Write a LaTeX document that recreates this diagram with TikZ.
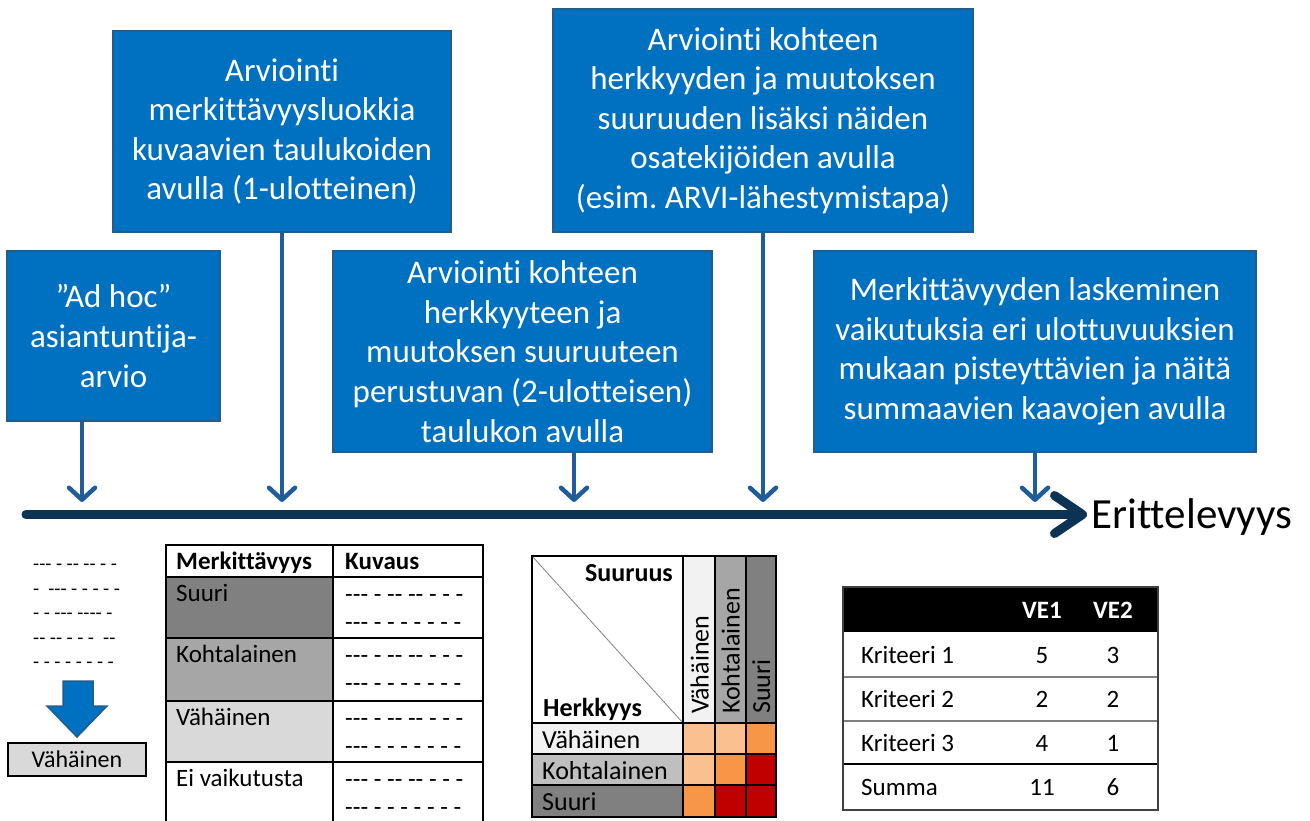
\documentclass[tikz,border=0pt]{standalone}
\usepackage{fontspec}
\setmainfont{Carlito}[Ligatures={TeX,CommonOff}]
\newfontfamily\dashfont{Carlito}[Ligatures=CommonOff]
\usetikzlibrary{arrows.meta,calc}
\frenchspacing

\definecolor{boxblue}{RGB}{0,112,192}
\definecolor{boxedge}{RGB}{36,92,142}
\definecolor{pointer}{RGB}{31,92,153}
\definecolor{axisblue}{RGB}{12,50,84}
\definecolor{lightorange}{RGB}{250,192,144}
\definecolor{midorange}{RGB}{247,150,70}
\definecolor{deepred}{RGB}{192,0,0}
\definecolor{g95}{RGB}{242,242,242}
\definecolor{g85}{RGB}{217,217,217}
\definecolor{g75}{RGB}{191,191,191}
\definecolor{g65}{RGB}{166,166,166}
\definecolor{g50}{RGB}{128,128,128}

\tikzset{
  method/.style={draw=boxedge, line width=2.5pt, fill=boxblue, text=white,
    align=center, inner sep=0pt, font=\fontsize{33}{39.6}\selectfont},
  pointer/.style={draw=pointer, line width=4.5pt,
    -{Straight Barb[length=12pt,width=26pt,round]}},
  axisline/.style={draw=axisblue, line width=9pt, line cap=round,
    -{Straight Barb[length=28pt,width=38pt,round]}},
  cell/.style={font=\fontsize{25}{30}\selectfont, inner sep=0pt},
  bcell/.style={cell, font=\fontsize{25}{30}\selectfont\bfseries},
  mcell/.style={font=\fontsize{26}{31}\selectfont, inner sep=0pt},
  mbcell/.style={mcell, font=\fontsize{26}{31}\selectfont\bfseries},
  dashtxt/.style={inner sep=0pt, font=\fontsize{25}{30}\dashfont},
  grid/.style={draw=black, line width=1.3pt},
}

\begin{document}
\begin{tikzpicture}[x=1pt,y=-1pt]
\useasboundingbox (0,0) rectangle (1310,820);
\begin{scope}
\clip (0,0) rectangle (1310,820);

% ---------- method boxes ----------
\node[method, minimum width=213pt, minimum height=170pt] (m1) at (113.5,336)
  {”Ad hoc”\\asiantuntija-\\arvio};
\node[method, minimum width=338pt, minimum height=201pt] (m2) at (282,131.5)
  {Arviointi\\merkittävyysluokkia\\kuvaavien taulukoiden\\avulla (1-ulotteinen)};
\node[method, minimum width=379pt, minimum height=201pt] (m3) at (522.5,351.5)
  {Arviointi kohteen\\herkkyyteen ja\\muutoksen suuruuteen\\perustuvan (2-ulotteisen)\\taulukon avulla};
\node[method, minimum width=420pt, minimum height=223pt] (m4) at (763,120.5)
  {Arviointi kohteen\\herkkyyden ja muutoksen\\suuruuden lisäksi näiden\\osatekijöiden avulla\\(esim. ARVI-lähestymistapa)};
\node[method, minimum width=442pt, minimum height=201pt] (m5) at (1035,351.5)
  {Merkittävyyden laskeminen\\vaikutuksia eri ulottuvuuksien\\mukaan pisteyttävien ja näitä\\summaavien kaavojen avulla};

% ---------- axis ----------
\coordinate (axL) at (26,514.5);
\coordinate (axR) at (1087,514.5);
\draw[axisline] (axL) -- (axR);
\node[anchor=west, inner sep=0pt, font=\fontsize{43}{52}\selectfont] (axlabel)
  at (1091,517) {Erittelevyys};

% ---------- pointers onto the axis ----------
\coordinate (p1) at (82,514.5);
\coordinate (p2) at (282,514.5);
\coordinate (p3) at (574,514.5);
\coordinate (p4) at (763,514.5);
\coordinate (p5) at (1035,514.5);
\draw[pointer] (m1.south -| p1) -- ($(p1)+(0,-12.5)$);
\draw[pointer] (m2.south -| p2) -- ($(p2)+(0,-12.5)$);
\draw[pointer] (m3.south -| p3) -- ($(p3)+(0,-12.5)$);
\draw[pointer] (m4.south -| p4) -- ($(p4)+(0,-12.5)$);
\draw[pointer] (m5.south -| p5) -- ($(p5)+(0,-12.5)$);

% ---------- free-form estimate ----------
\begin{scope}[dashtxt/.append style={font=\fontsize{20}{24}\dashfont}]
\node[dashtxt, anchor=base west] (d1) at (33,570) {--- - -- -- - -};
\node[dashtxt, anchor=base west] (d2) at (33,595) {-\ \ --- - - - - -};
\node[dashtxt, anchor=base west] (d3) at (33,619) {- - --- ---- -};
\node[dashtxt, anchor=base west] (d4) at (33,644) {-- -- - - -\ \ --};
\node[dashtxt, anchor=base west] (d5) at (33,668) {- - - - - - - -};
\end{scope}
\draw[fill=boxblue, draw=boxedge, line width=1.5pt]
  (63,681) -- (93,681) -- (93,706) -- (107,706) -- (77,737) -- (47,706) -- (63,706) -- cycle;
\node[draw=black, line width=1.3pt, fill=g85, minimum width=138pt, minimum height=33pt,
  inner sep=0pt, font=\fontsize{24}{28}\selectfont] (res) at (77,759.5) {Vähäinen};

% ---------- one-dimensional table ----------
\fill[g50] (166,577) rectangle (333,638);
\fill[g65] (166,638) rectangle (333,701);
\fill[g85] (166,701) rectangle (333,762);
\draw[grid] (166,545) rectangle (483,830);
\draw[grid] (333,545) -- (333,830);
\foreach \yy in {577,638,701,762} \draw[grid] (166,\yy) -- (483,\yy);
\node[bcell, anchor=base west] (t1h1) at (176,569) {Merkittävyys};
\node[bcell, anchor=base west] (t1h2) at (345,569) {Kuvaus};
\foreach \yy/\lab/\nm in {577/Suuri/a,638/Kohtalainen/b,701/Vähäinen/c,762/Ei vaikutusta/d}{
  \node[cell, anchor=base west] (t1\nm) at (176,\yy+24) {\lab};
  \node[dashtxt, anchor=base west] (t1\nm x) at (345,\yy+25) {--- - -- -- - - -};
  \node[dashtxt, anchor=base west] (t1\nm y) at (345,\yy+53) {--- - - - - - - -};
}

% ---------- two-dimensional matrix ----------
\fill[g95] (683,556) rectangle (715,723);
\fill[g65] (715,556) rectangle (746,723);
\fill[g50] (746,556) rectangle (776,723);
\fill[g95] (532,723) rectangle (683,754);
\fill[g75] (532,754) rectangle (683,785);
\fill[g50] (532,785) rectangle (683,817);
\fill[lightorange] (683,723) rectangle (715,754);
\fill[lightorange] (715,723) rectangle (746,754);
\fill[midorange]   (746,723) rectangle (776,754);
\fill[lightorange] (683,754) rectangle (715,785);
\fill[midorange]   (715,754) rectangle (746,785);
\fill[deepred]     (746,754) rectangle (776,785);
\fill[midorange]   (683,785) rectangle (715,817);
\fill[deepred]     (715,785) rectangle (746,817);
\fill[deepred]     (746,785) rectangle (776,817);
\draw[draw=g50, line width=0.8pt] (532,556) -- (683,723);
\draw[grid] (532,556) rectangle (776,817);
\foreach \xx in {683,715,746} \draw[grid] (\xx,556) -- (\xx,817);
\foreach \yy in {723,754,785} \draw[grid] (532,\yy) -- (776,\yy);
\node[mbcell, anchor=base east] (mxs) at (673,581) {Suuruus};
\node[mbcell, anchor=base west] (mxh) at (543,716) {Herkkyys};
\node[mcell, anchor=base west, rotate=90] (mc1) at (708.5,714) {Vähäinen};
\node[mcell, anchor=base west, rotate=90] (mc2) at (739.5,714) {Kohtalainen};
\node[mcell, anchor=base west, rotate=90] (mc3) at (770,714) {Suuri};
\node[mcell, anchor=base west] (mr1) at (542,748) {Vähäinen};
\node[mcell, anchor=base west] (mr2) at (542,779) {Kohtalainen};
\node[mcell, anchor=base west] (mr3) at (542,810) {Suuri};

% ---------- scoring table ----------
\fill[black] (843,587) rectangle (1158,632);
\draw[draw=g50, line width=1.2pt] (843,677) -- (1158,677);
\draw[draw=g50, line width=1.2pt] (843,721) -- (1158,721);
\draw[draw=black, line width=2.2pt] (843,764) -- (1158,764);
\draw[draw=black!75, line width=1.3pt] (843,587) rectangle (1158,810);
\node[bcell, text=white, anchor=base] (v1) at (1042,618) {VE1};
\node[bcell, text=white, anchor=base] (v2) at (1113,618) {VE2};
\foreach \yy/\lab/\a/\b/\nm in {654.5/Kriteeri 1/5/3/a,699/Kriteeri 2/2/2/b,742.5/Kriteeri 3/4/1/c,787/Summa/11/6/d}{
  \node[cell, anchor=base west] (k\nm) at (861,\yy+8.5) {\lab};
  \node[cell, anchor=base] (k\nm 1) at (1042,\yy+8.5) {\a};
  \node[cell, anchor=base] (k\nm 2) at (1113,\yy+8.5) {\b};
}
\end{scope}
\end{tikzpicture}
\end{document}
